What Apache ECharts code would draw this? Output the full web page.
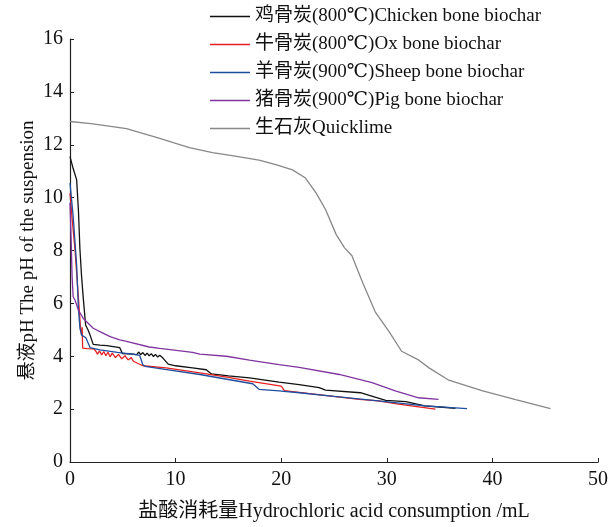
<!DOCTYPE html>
<html>
<head>
<meta charset="utf-8">
<title>pH titration</title>
<script src="https://cdn.jsdelivr.net/npm/echarts@6/dist/echarts.min.js"></script>
<style>
	html, body { margin: 0; padding: 0; background: #fff; }
	#main { width: 611px; height: 527px; }
</style>
</head>
<body>
<div id="main"></div>
<script>
// 图例名称
var seriesNames = [
	'鸡骨炭(800℃)Chicken bone biochar',
	'牛骨炭(800℃)Ox bone biochar',
	'羊骨炭(900℃)Sheep bone biochar',
	'猪骨炭(900℃)Pig bone biochar',
	'生石灰Quicklime'
]
var xTicks = [0, 10, 20, 30, 40, 50]
var yTicks = [0, 2, 4, 6, 8, 10, 12, 14, 16]

// [盐酸消耗量 mL, pH]
var chicken = [
	[0, 11.55], [0.3, 11.1], [0.63, 10.67], [0.8, 9.5], [0.94, 8.05], [1.1, 7.0], [1.26, 6.18],
	[1.48, 5.18], [1.7, 5.0], [1.9, 4.8], [2.2, 4.45], [2.83, 4.42], [3.5, 4.4], [4.7, 4.33],
	[4.8, 4.31], [4.97, 4.1], [6.0, 4.08], [6.1, 4.15], [6.3, 4.05], [6.5, 4.16], [6.7, 4.06],
	[6.9, 4.14], [7.1, 4.03], [7.3, 4.12], [7.5, 4.02], [7.7, 4.1], [7.9, 3.99], [8.1, 4.07],
	[8.3, 3.97], [8.5, 4.04], [8.8, 3.93], [9.3, 3.7], [10, 3.64], [11.6, 3.56], [12.9, 3.49],
	[13.4, 3.33], [15, 3.26], [17, 3.18], [19.8, 3.02], [21.7, 2.93], [23.6, 2.81], [24.2, 2.72],
	[27.5, 2.62], [28.5, 2.5], [29.9, 2.33], [31.8, 2.28], [33.6, 2.12], [35, 2.08], [36.5, 2.03]
]
var ox = [
	[0, 10.17], [0.2, 9.2], [0.47, 8.05], [0.8, 6.18], [1.0, 5.06], [1.1, 4.8], [1.15, 5.1],
	[1.2, 4.31], [1.6, 4.29], [2.2, 4.28], [2.4, 4.22], [2.6, 4.08], [2.8, 4.2], [3.0, 4.05],
	[3.2, 4.18], [3.4, 4.02], [3.6, 4.15], [3.8, 3.98], [4.0, 4.12], [4.3, 3.95], [4.6, 4.07],
	[4.9, 3.9], [5.2, 4.02], [5.5, 3.86], [5.8, 3.95], [6.0, 3.81], [6.1, 3.75], [6.9, 3.64],
	[9.1, 3.56], [12.3, 3.37], [15, 3.2], [17, 3.06], [20.0, 2.87], [20.3, 2.7], [23.3, 2.56],
	[27.4, 2.37], [29.2, 2.31], [31.1, 2.19], [34.6, 2.0]
]
var sheep = [
	[0, 10.55], [0.3, 9.3], [0.63, 7.43], [0.8, 5.8], [0.94, 5.06], [1.1, 4.8], [1.26, 4.74],
	[1.5, 4.7], [1.9, 4.33], [2.83, 4.24], [4.5, 4.15], [6.3, 4.06], [6.6, 4.03], [6.9, 3.68],
	[7.1, 3.62], [9, 3.5], [12.3, 3.31], [15, 3.12], [17.3, 2.96], [17.9, 2.75], [19.8, 2.69],
	[21.7, 2.62], [25, 2.48], [29.2, 2.31], [33.6, 2.12], [37.6, 2.02]
]
var pig = [
	[0, 9.8], [0.1, 8.5], [0.2, 7.0], [0.3, 6.25], [0.5, 6.1], [0.8, 5.74], [1.26, 5.43],
	[2.2, 5.06], [2.83, 4.93], [3.8, 4.74], [4.7, 4.62], [5.35, 4.56], [7.5, 4.35], [8.5, 4.3],
	[11.6, 4.15], [12.3, 4.08], [14.8, 4.0], [17, 3.85], [17.9, 3.8], [19.8, 3.68], [21.7, 3.58],
	[25.5, 3.31], [28.6, 3.0], [30.8, 2.69], [33, 2.43], [34.9, 2.37]
]
var quicklime = [
	[0, 12.88], [2, 12.8], [5.35, 12.61], [8.5, 12.24], [11.3, 11.89], [13.5, 11.7], [15.5, 11.58],
	[17.9, 11.42], [19.5, 11.25], [21.07, 11.05], [22.3, 10.74], [23.3, 10.18], [24.2, 9.55],
	[25.2, 8.61], [26.0, 8.1], [26.7, 7.8], [27.7, 6.8], [28.9, 5.68], [30.2, 4.94], [31.4, 4.19],
	[33.0, 3.86], [34.0, 3.56], [35.8, 3.11], [39.0, 2.7], [42.2, 2.36], [45.5, 2.02]
]

var lineColors = ['#111111', '#e62020', '#1f4e9e', '#8034a0', '#888888']
var allData = [chicken, ox, sheep, pig, quicklime]
var fontFam = '"Liberation Serif", "DejaVu Serif", "Noto Sans CJK SC", serif'

var chart = echarts.init(document.getElementById('main'))
chart.setOption({
	animation: false,
	backgroundColor: '#fff',
	textStyle: { fontFamily: fontFam },
	grid: { left: 70, right: 11, top: 39, bottom: 60 },
	legend: {
		orient: 'vertical',
		left: 210,
		top: 7,
		padding: 0,
		icon: 'rect',
		itemWidth: 40,
		itemHeight: 1.5,
		itemGap: 9,
		data: seriesNames,
		textStyle: { fontSize: 19, color: '#111', fontFamily: fontFam }
	},
	xAxis: {
		type: 'value',
		min: xTicks[0],
		max: xTicks[xTicks.length - 1],
		interval: 10,
		name: '盐酸消耗量Hydrochloric acid consumption /mL',
		nameLocation: 'middle',
		nameGap: 40,
		nameMoveOverlap: false,
		nameTextStyle: { fontSize: 20, color: '#111', fontFamily: fontFam },
		axisLine: { lineStyle: { color: '#222', width: 1.2 } },
		axisTick: { inside: true, length: 4, lineStyle: { color: '#222' } },
		axisLabel: { fontSize: 20, color: '#111', margin: 8, fontFamily: fontFam },
		splitLine: { show: false }
	},
	yAxis: {
		type: 'value',
		min: yTicks[0],
		max: yTicks[yTicks.length - 1],
		interval: 2,
		name: '悬液pH The pH of the suspension',
		nameLocation: 'middle',
		nameGap: 32,
		nameMoveOverlap: false,
		nameTextStyle: { fontSize: 19, color: '#111', fontFamily: fontFam },
		axisLine: { show: true, lineStyle: { color: '#222', width: 1.2 } },
		axisTick: { show: true, inside: true, length: 4, lineStyle: { color: '#222' } },
		axisLabel: { fontSize: 20, color: '#111', margin: 7, fontFamily: fontFam },
		splitLine: { show: false }
	},
	series: seriesNames.map(function (name, i) {
		return {
			name: name,
			type: 'line',
			data: allData[i],
			symbol: 'none',
			color: lineColors[i],
			lineStyle: { color: lineColors[i], width: 1.3 }
		}
	})
})
</script>
</body>
</html>
